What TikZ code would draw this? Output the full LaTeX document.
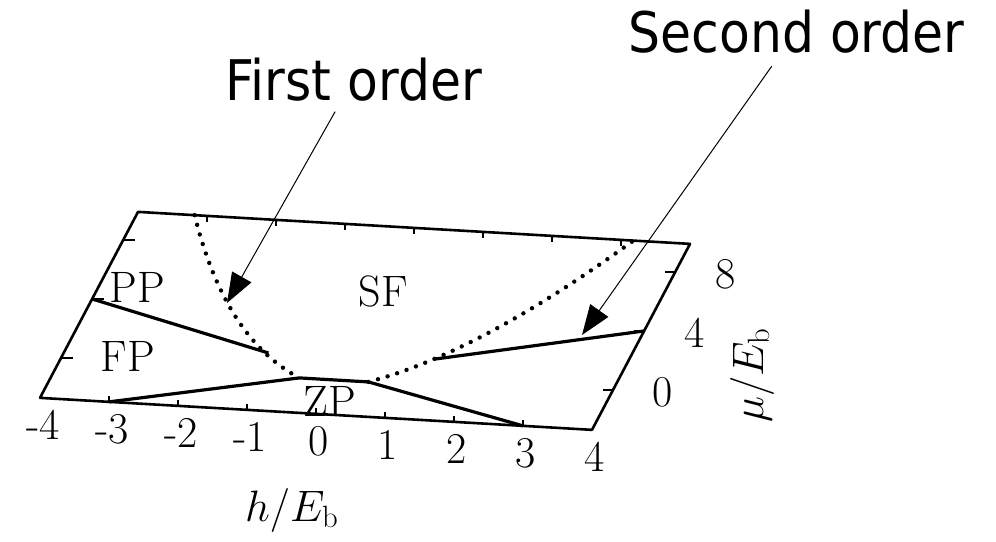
\RequirePackage{fix-cm}
\documentclass[tikz,border=0pt]{standalone}
\usepackage{fontspec}
\usepackage{amsmath}
\usetikzlibrary{arrows.meta}
\newfontfamily\annfont{DejaVu Sans}[FakeStretch=0.9]
\tikzset{
  rim/.style={line width=1.3pt, line join=round},
  bound/.style={line width=1.6pt, line join=round},
  dotline/.style={line width=2.2pt, line cap=round, dash pattern=on 0pt off 5pt},
  tic/.style={line width=1pt},
  lbl/.style={font=\fontsize{22}{26}\selectfont, inner sep=0pt},
  ann/.style={font=\annfont\fontsize{28}{32}\selectfont, inner sep=0pt, anchor=base},
  arr/.style={-{Triangle[length=15pt, width=11pt]}, line width=0.5pt},
}

\begin{document}
\begin{tikzpicture}[x=0.5pt, y=-0.5pt]
  \fill[white] (0,0) rectangle (996,541);
  \begin{scope}[shift={(337,374)}, x={(34.5pt,-2pt)}, y={(3.89pt,7.38pt)}]
    \draw[rim] (-4,-2.7) -- (4,-2.7) -- (4,9.9) -- (-4,9.9) -- cycle;
    \foreach \h in {-3,...,3}{
      \draw[tic] (\h,-2.7) -- ++(0pt,3pt);
      \draw[tic] (\h,9.9) -- ++(0pt,-3pt);
    }
    \foreach \m in {0,4,8}{
      \draw[tic] (-4,\m) -- ++(6pt,0pt);
      \draw[tic] (4,\m) -- ++(-5pt,0pt);
      \node[lbl, xshift=25pt, yshift=-1pt] (mu\m) at (4,\m) {\m};
    }
    \foreach \h in {-4,...,4}
      \node[lbl, xshift=1.5pt, yshift=-13.5pt] (hx\h) at (\h,-2.7) {\h};
    \draw[dotline] plot[domain=-3.18:-0.5, samples=40] (\x, {0.787*\x*\x - 0.948*\x - 1.071});
    \draw[dotline] plot[domain=0.5:3.18, samples=40] (\x, {0.787*\x*\x + 0.948*\x - 1.071});
    \draw[bound] (-4,4) -- (-1.12,1.12);
    \draw[bound] (1.25,1.34) -- (4,4);
    \draw[bound] (-3,-2.7) -- (-0.5,-0.4) -- (0.5,-0.4) -- (3,-2.7);
  \end{scope}
  \node[lbl] (pp) at (137,287) {PP};
  \node[lbl] (fp) at (128,356) {FP};
  \node[lbl] (sf) at (383,291) {SF};
  \node[lbl] (zp) at (330,401) {ZP};
  \node[lbl] (hlab) at (292,510) {$h/E_{\mathrm{b}}$};
  \node[lbl, rotate=90] (mulab) at (752,375) {$\mu/E_{\mathrm{b}}$};
  \node[ann] (first) at (353.5,100) {First order};
  \node[ann] (second) at (796.5,52) {Second order};
  \coordinate (fotip) at (227,303);
  \coordinate (sotip) at (582,335);
  \draw[arr, shorten <=6pt] (first) -- (fotip);
  \draw[arr, shorten <=8pt] (second) -- (sotip);
\end{tikzpicture}
\end{document}
